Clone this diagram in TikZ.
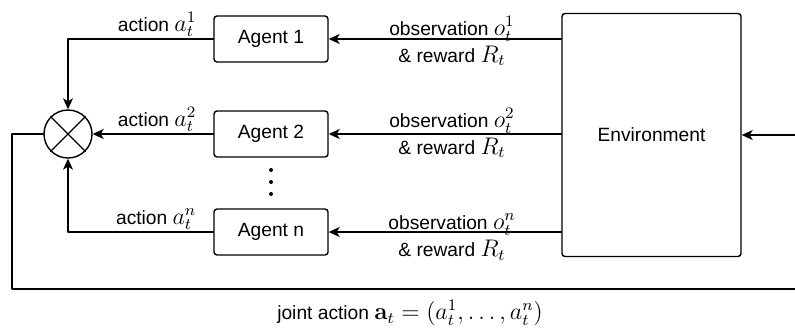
\documentclass[tikz,border=0pt]{standalone}
\usepackage[no-math]{fontspec}
\setmainfont{Liberation Sans}
\usetikzlibrary{arrows.meta}
\newcommand{\mth}[1]{{\fontsize{11.5}{12}\selectfont$#1$}}
\begin{document}
\begin{tikzpicture}[x=0.5pt,y=-0.5pt,line join=round,line cap=round,>={Stealth[length=5.5pt,width=5pt,inset=1.5pt]},line width=0.7pt]
	\tikzset{every node/.style={font=\fontsize{9.6}{12}\selectfont},
		box/.style={draw,rounded corners=1.5pt,minimum width=57pt,minimum height=23pt},
		lbl/.style={inner sep=0pt,anchor=base east},
		obs/.style={align=center,inner sep=0pt,font=\fontsize{9.6}{13.5}\selectfont}}
	\useasboundingbox (0,0) rectangle (795,327);
	\node[box] (a1) at (271,39) {Agent 1};
	\node[box] (a2) at (271,134) {Agent 2};
	\node[box] (an) at (271,232) {Agent n};
	\node[box,minimum width=89.5pt,minimum height=121.5pt] (env) at (651.5,135) {Environment};
	\node[draw,circle,minimum size=24pt,inner sep=0pt] (sum) at (68,134) {};
	\draw (sum.north west) -- (sum.south east) (sum.north east) -- (sum.south west);
	\foreach \y in {170,182,194}
	\fill (271,\y) circle (1pt);
	% actions
	\draw[->] (a1.west) -| (sum.north);
	\draw[->] (a2.west) -- (sum.east);
	\draw[->] (an.west) -| (sum.south);
	\node[lbl] (l1) at (197,31) {action \mth{a_t^1}};
	\node[lbl] (l2) at (197,126) {action \mth{a_t^2}};
	\node[lbl] (ln) at (197,224) {action \mth{a_t^n}};
	% observations
	\draw[->] (env.west |- a1) -- (a1.east);
	\draw[->] (env.west |- a2) -- (a2.east);
	\draw[->] (env.west |- an) -- (an.east);
	\node[obs] (o1) at (452,41) {observation \mth{o_t^1}\\\& reward \mth{R_t}};
	\node[obs] (o2) at (452,133) {observation \mth{o_t^2}\\\& reward \mth{R_t}};
	\node[obs] (on) at (452,237) {observation \mth{o_t^n}\\\& reward \mth{R_t}};
	% feedback
	\coordinate (in) at (797,135);
	\coordinate (fb) at (12,289);
	\coordinate (out) at (797,289);
	\draw[->] (in) -- (env.east);
	\draw (sum.west) -| (fb) -- (out);
	\node (joint) at (410,313) {joint action \mth{\mathbf{a}_t=(a_t^1,\dots,a_t^n)}};
\end{tikzpicture}
\end{document}
